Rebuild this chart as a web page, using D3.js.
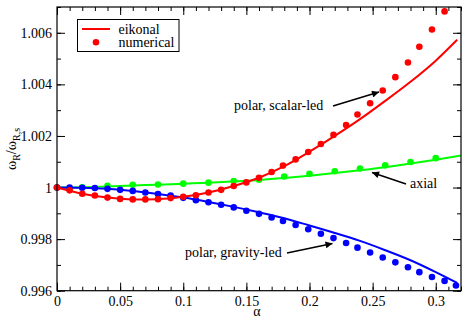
<!DOCTYPE html>
<html><head><meta charset="utf-8">
<script src="https://cdn.jsdelivr.net/npm/d3@7"></script>
<style>body{margin:0;background:#fff}svg{display:block}</style>
</head><body>
<svg id="c" width="463" height="317"></svg>
<script>
// ---- data ----
const alphaNum = [0,0.010,0.020,0.030,0.040,0.050,0.060,0.070,0.080,0.090,0.100,0.110,0.120,0.130,0.140,0.150,0.160,0.170,0.179,0.189,0.199,0.209,0.219,0.229,0.238,0.248,0.258,0.268,0.278,0.287,0.297,0.307,0.316];
const scalarNum = [1.0000,0.99989,0.99976,0.99969,0.99961,0.99956,0.99954,0.99954,0.99955,0.99959,0.99964,0.99970,0.99981,0.99991,1.00006,1.00020,1.00038,1.00060,1.00085,1.00109,1.00138,1.00169,1.00204,1.00242,1.00283,1.00327,1.00376,1.00428,1.00485,1.00546,1.00613,1.00683];
const gravityNum = [1.0000,1.0000,0.99999,0.99998,0.99995,0.99991,0.99987,0.99981,0.99975,0.99969,0.99960,0.99951,0.99943,0.99933,0.99923,0.99910,0.99898,0.99884,0.99870,0.99855,0.99838,0.99821,0.99804,0.99785,0.99767,0.99748,0.99729,0.99710,0.99691,0.99672,0.99653,0.99638,0.99620];
const alphaAxialNum = [0,0.02,0.04,0.06,0.08,0.10,0.12,0.14,0.16,0.18,0.20,0.22,0.24,0.26,0.28,0.30];
const axialNum = [1,1.00001,1.00007,1.00011,1.00012,1.00015,1.00019,1.00025,1.00030,1.00043,1.00053,1.00063,1.00074,1.00086,1.00099,1.00114];

const alphaEik = [0,0.02,0.04,0.06,0.08,0.10,0.12,0.14,0.16,0.18,0.20,0.22,0.24,0.26,0.28,0.30,0.317];
const scalarEik = [1,0.99976,0.99961,0.99954,0.99955,0.99964,0.99981,1.00006,1.00038,1.00083,1.00139,1.00200,1.00265,1.00336,1.00410,1.00492,1.00573];
const gravityEik = [1,0.99999,0.99995,0.99987,0.99975,0.99961,0.99944,0.99925,0.99904,0.99881,0.99853,0.99824,0.99793,0.99757,0.99718,0.99672,0.99630];
const alphaAxialEik = [0,0.02,0.04,0.06,0.08,0.10,0.12,0.14,0.16,0.18,0.20,0.22,0.24,0.26,0.28,0.30,0.32];
const axialEik = [1,1.00001,1.00004,1.00008,1.00011,1.00015,1.00019,1.00024,1.00029,1.00037,1.00046,1.00056,1.00067,1.00079,1.00093,1.00108,1.00124];

const xMajor = [0,0.05,0.1,0.15,0.2,0.25,0.3];
const xMajorLabels = ["0","0.05","0.1","0.15","0.2","0.25","0.3"];
const yMajor = [0.996,0.998,1.0,1.002,1.004,1.006];
const yMajorLabels = ["0.996","0.998","1","1.002","1.004","1.006"];
const xMinor = d3.range(0,33).map(i=>i/100);
const yMinor = d3.range(996,1008).map(i=>i/1000);

// ---- layout ----
const L=57,R=461,T=7,B=290.7;
const FONT="'Liberation Serif'";
const svg=d3.select("#c").style("font-family",FONT);
const x=d3.scaleLinear().domain([0,0.32]).range([L,R]);
const y=d3.scaleLinear().domain([0.996,1.007]).range([B,T]);

const fmtX=d=>xMajorLabels[xMajor.indexOf(d)];
const fmtY=d=>yMajorLabels[yMajor.indexOf(d)];

function styleAxis(g){g.attr("font-family",null).style("font-family",FONT);g.select(".domain").remove();g.selectAll("line").attr("stroke","#000").attr("stroke-width",1);g.selectAll("text").attr("font-size",14).attr("fill","#000").style("font-family",FONT);}

svg.append("g").attr("transform",`translate(0,${B})`).call(d3.axisBottom(x).tickValues(xMinor).tickSize(-4).tickFormat("")).call(styleAxis);
svg.append("g").attr("transform",`translate(0,${B})`).call(d3.axisBottom(x).tickValues(xMajor).tickSize(-8).tickPadding(5).tickFormat(fmtX)).call(styleAxis);
svg.append("g").attr("transform",`translate(0,${T})`).call(d3.axisTop(x).tickValues(xMinor).tickSize(-4).tickFormat("")).call(styleAxis);
svg.append("g").attr("transform",`translate(0,${T})`).call(d3.axisTop(x).tickValues(xMajor).tickSize(-8).tickFormat("")).call(styleAxis);
svg.append("g").attr("transform",`translate(${L},0)`).call(d3.axisLeft(y).tickValues(yMinor).tickSize(-4).tickFormat("")).call(styleAxis);
svg.append("g").attr("transform",`translate(${L},0)`).call(d3.axisLeft(y).tickValues(yMajor).tickSize(-8).tickPadding(5).tickFormat(fmtY)).call(styleAxis);
svg.append("g").attr("transform",`translate(${R},0)`).call(d3.axisRight(y).tickValues(yMinor).tickSize(-4).tickFormat("")).call(styleAxis);
svg.append("g").attr("transform",`translate(${R},0)`).call(d3.axisRight(y).tickValues(yMajor).tickSize(-8).tickFormat("")).call(styleAxis);

const line=d3.line().x(d=>x(d[0])).y(d=>y(d[1])).curve(d3.curveMonotoneX);
const plot=svg.append("g");
function series(ax,vals,axd,dvals,color){
  plot.append("path").datum(ax.map((a,i)=>[a,vals[i]])).attr("d",line).attr("fill","none").attr("stroke",color).attr("stroke-width",2);
  plot.append("g").selectAll("circle").data(dvals.map((v,i)=>[axd[i],v])).join("circle")
    .attr("cx",d=>x(d[0])).attr("cy",d=>y(d[1])).attr("r",3.3).attr("fill",color);
}
series(alphaAxialEik,axialEik,alphaAxialNum,axialNum,"#00ff00");
series(alphaEik,gravityEik,alphaNum,gravityNum,"#0000ff");
series(alphaEik,scalarEik,alphaNum,scalarNum,"#ff0000");

// frame
svg.append("rect").attr("x",L).attr("y",T).attr("width",R-L).attr("height",B-T).attr("fill","none").attr("stroke","#000").attr("stroke-width",1.2);

function txt(xp,yp,s,size,anchor){
  return svg.append("text").attr("x",xp).attr("y",yp).attr("font-size",size).attr("text-anchor",anchor||"start")
    .style("font-family",FONT).attr("fill","#000").text(s);
}
// axis labels
txt(257,315.5,"α",14,"middle");
const yl=svg.append("text").attr("transform","translate(16,149) rotate(-90)").attr("text-anchor","middle").attr("font-size",14).style("font-family",FONT);
yl.append("tspan").text("ω");
yl.append("tspan").attr("font-size",10).attr("dy",4).text("R");
yl.append("tspan").attr("dy",-4).text("/ω");
yl.append("tspan").attr("font-size",10).attr("dy",4).text("R,s");

// legend
svg.append("rect").attr("x",77.5).attr("y",19.5).attr("width",101.5).attr("height",32).attr("fill","#fff").attr("stroke","#000").attr("stroke-width",1);
svg.append("line").attr("x1",82).attr("x2",110).attr("y1",29).attr("y2",29).attr("stroke","#ff0000").attr("stroke-width",2);
svg.append("circle").attr("cx",96).attr("cy",42.3).attr("r",3.3).attr("fill","#ff0000");
txt(118.5,33.5,"eikonal",14);
txt(118.5,47,"numerical",14);

// annotations
const defs=svg.append("defs");
defs.append("marker").attr("id","ah").attr("viewBox","0 0 10 10").attr("refX",10).attr("refY",5)
  .attr("markerWidth",9).attr("markerHeight",7).attr("markerUnits","userSpaceOnUse").attr("orient","auto")
  .append("path").attr("d","M0,0L10,5L0,10z").attr("fill","#000");
function ann(tx,ty,label,x1,y1,x2,y2){
  txt(tx,ty,label,14);
  svg.append("line").attr("x1",x1).attr("y1",y1).attr("x2",x2).attr("y2",y2).attr("stroke","#000").attr("stroke-width",1.5).attr("marker-end","url(#ah)");
}
ann(234,110,"polar, scalar-led",333,106,379,92);
ann(410,188,"axial",406,184,372,172.5);
ann(185,257,"polar, gravity-led",287,253,332.5,243.5);
</script>
</body></html>
